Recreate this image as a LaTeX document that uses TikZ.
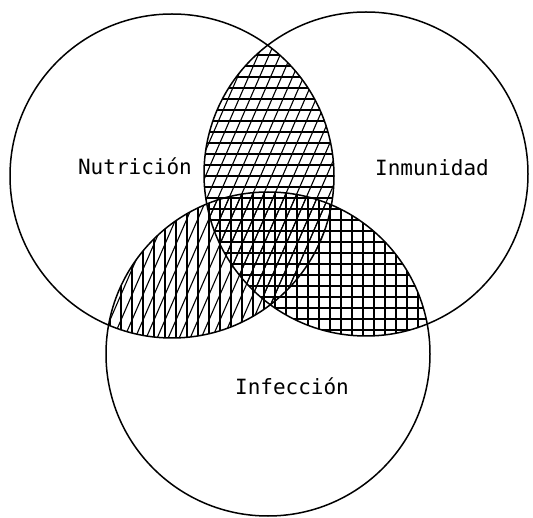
\documentclass[tikz,border=0pt]{standalone}
\usepackage{fontspec}
\setmonofont{DejaVu Sans Mono}
\begin{document}
\begin{tikzpicture}[x=1pt,y=-1pt,
  ring/.style={line width=1.5pt},
  hatch/.style={line width=1.1pt},
  setname/.style={font=\ttfamily\fontsize{21}{21}\selectfont,inner sep=0pt,anchor=base}]
\useasboundingbox (0,0) rectangle (533,518);
\def\nutr{(172,176) circle (162pt)}
\def\inmu{(366,174) circle (162pt)}
\def\infe{(268,354) circle (162pt)}

\begin{scope}
\clip \nutr; \clip \inmu;
\foreach \y in {0,11,...,520} { \draw[hatch] (0,\y) -- (533,\y); }
\foreach \x in {-240,-229,...,540} { \draw[hatch] (\x,518) -- (\x+225,0); }
\end{scope}

\begin{scope}
\clip \nutr; \clip \infe;
\foreach \x in {0,11,...,540} { \draw[hatch] (\x,0) -- (\x,518); }
\foreach \x in {-240,-229,...,540} { \draw[hatch] (\x,518) -- (\x+225,0); }
\end{scope}

\begin{scope}
\clip \inmu; \clip \infe;
\foreach \y in {0,11,...,520} { \draw[hatch] (0,\y) -- (533,\y); }
\foreach \x in {0,11,...,540} { \draw[hatch] (\x,0) -- (\x,518); }
\end{scope}

\draw[ring] \nutr;
\draw[ring] \inmu;
\draw[ring] \infe;

\node[setname] (nutricion) at (135,175) {Nutrición};
\node[setname] (inmunidad) at (432,176) {Inmunidad};
\node[setname] (infeccion) at (292,395) {Infección};
\end{tikzpicture}
\end{document}
